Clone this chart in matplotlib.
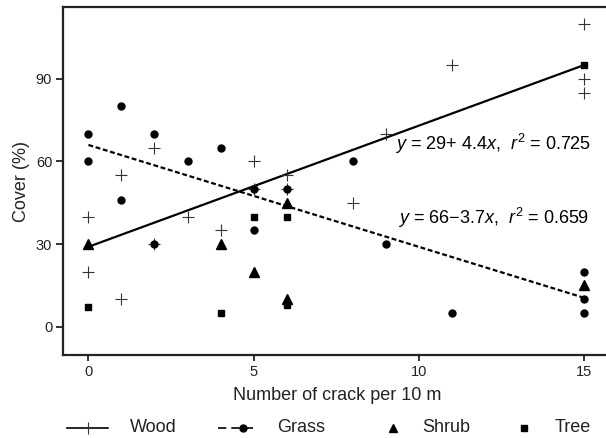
import matplotlib

matplotlib.use("Agg")
import matplotlib.pyplot as plt
from matplotlib.lines import Line2D

plt.rcParams["font.family"] = ["Liberation Sans", "DejaVu Sans"]
plt.rcParams["mathtext.fontset"] = "custom"
plt.rcParams["mathtext.rm"] = "Liberation Sans"
plt.rcParams["mathtext.it"] = "Liberation Sans:italic"

# cover (%) by number of cracks per 10 m
wood_x = [0, 0, 1, 1, 2, 2, 3, 4, 5, 5, 6, 6, 8, 9, 11, 15, 15, 15]
wood_y = [40, 20, 55, 10, 65, 30, 40, 35, 60, 50, 55, 50, 45, 70, 95, 110, 90, 85]
grass_x = [0, 0, 1, 1, 2, 2, 3, 4, 5, 5, 6, 8, 9, 11, 15, 15, 15]
grass_y = [70, 60, 80, 46, 70, 30, 60, 65, 50, 35, 50, 60, 30, 5, 20, 10, 5]
shrub_x = [0, 4, 5, 6, 6, 15]
shrub_y = [30, 30, 20, 45, 10, 15]
tree_x = [0, 4, 5, 6, 6, 15]
tree_y = [7, 5, 40, 40, 8, 95]

# regression lines: intercept, slope, r2
wood_fit = (29, 4.4, 0.725)
grass_fit = (66, -3.7, 0.659)
fit_range = [0, 15]

x_ticks = [0, 5, 10, 15]
y_ticks = [0, 30, 60, 90]

W, H = 606, 438
fig = plt.figure(figsize=(W / 100, H / 100), dpi=100)
ax = fig.add_axes([63.3 / W, (H - 355) / H, (612 - 63.3) / W, (355 - 7.3) / H])

ax.plot(wood_x, wood_y, ls="none", marker="+", ms=9, mew=0.8, color="#333", zorder=4)
ax.plot(grass_x, grass_y, ls="none", marker="o", ms=5, color="black", zorder=4)
ax.plot(shrub_x, shrub_y, ls="none", marker="^", ms=6.5, color="black", zorder=4)
ax.plot(tree_x, tree_y, ls="none", marker="s", ms=5, color="black", zorder=4)

a, b, r2 = wood_fit
ax.plot(fit_range, [a + b * x for x in fit_range], color="black", lw=1.6, zorder=3)
a2, b2, r22 = grass_fit
ax.plot(fit_range, [a2 + b2 * x for x in fit_range], color="black", lw=1.6,
        ls=(0, (2.2, 1.2)), zorder=3)

ax.text(9.28, 64.0, rf"$y$ = {a}+ {b}$x$,  $r^2$ = {r2}", fontsize=13, va="baseline")
ax.text(9.36, 37.3, rf"$y$ = {a2}$-${abs(b2)}$x$,  $r^2$ = {r22}", fontsize=13, va="baseline")

ax.set_xlim(-0.76, 15.85)
ax.set_ylim(-10.3, 116)
ax.set_xticks(x_ticks)
ax.set_yticks(y_ticks)
ax.tick_params(axis="x", length=4, width=1.3, pad=3, labelsize=10.5, colors="#222")
ax.tick_params(axis="y", length=5, width=1.3, pad=3, labelsize=10.5, colors="#222")
for s in ["left", "bottom", "top"]:
    ax.spines[s].set_linewidth(1.6)
    ax.spines[s].set_color("#222")
ax.spines["right"].set_visible(False)

ax.set_xlabel("Number of crack per 10 m", fontsize=13, color="#222", labelpad=6)
ax.set_ylabel("Cover (%)", fontsize=13, color="#222", labelpad=4)


# legend along the bottom, built by hand
def fx(px):
    return px / W


def fy(py):
    return (H - py) / H


ly = 428
fig.add_artist(Line2D([fx(67), fx(108)], [fy(ly), fy(ly)], color="black", lw=1.2))
fig.add_artist(Line2D([fx(87.5)], [fy(ly)], marker="+", ms=9, mew=0.8, color="#333"))
fig.add_artist(Line2D([fx(218), fx(256)], [fy(ly), fy(ly)], color="black", lw=1.2,
                      ls=(0, (5, 3))))
fig.add_artist(Line2D([fx(243)], [fy(ly)], marker="o", ms=5, color="black"))
fig.add_artist(Line2D([fx(393)], [fy(ly)], marker="^", ms=6, color="black"))
fig.add_artist(Line2D([fx(524)], [fy(ly)], marker="s", ms=4.5, color="black"))
for txt, px in [("Wood", 130), ("Grass", 277), ("Shrub", 422), ("Tree", 555)]:
    fig.text(fx(px), fy(ly), txt, fontsize=13, va="center", ha="left", color="#222")

fig.savefig("out.png", dpi=100)
